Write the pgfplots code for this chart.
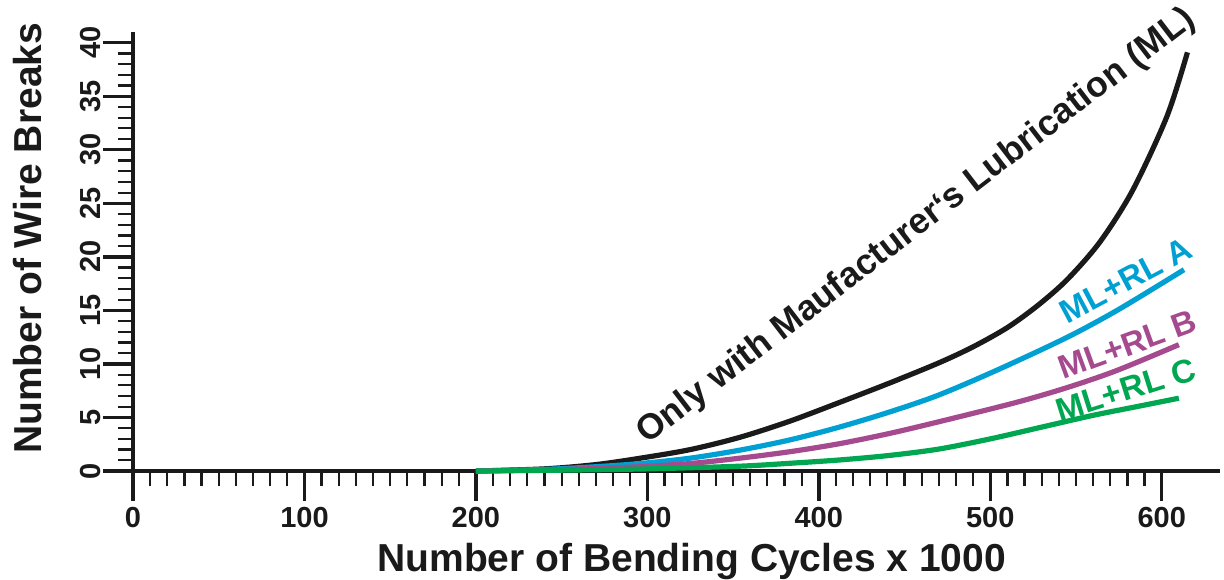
\documentclass[border=0pt]{standalone}
\usepackage{fontspec}
\setmainfont{Liberation Sans}
\usepackage{pgfplots}
\pgfplotsset{compat=1.18}
\definecolor{mlblack}{RGB}{26,26,26}
\definecolor{rla}{RGB}{0,160,210}
\definecolor{rlb}{RGB}{165,74,142}
\definecolor{rlc}{RGB}{0,166,80}
\begin{document}
\begin{tikzpicture}
\begin{axis}[
  at={(0,0)}, anchor=south west,
  scale only axis, width=543.5pt, height=219.5pt,
  xmin=0, xmax=634, ymin=0, ymax=41,
  axis lines=left, axis line style={-, line width=1.8pt, color=mlblack},
  tick align=outside,
  xtick={0,100,...,600}, ytick={0,5,...,40},
  minor x tick num=9, minor y tick num=4,
  major tick length=15pt, minor tick length=7.5pt,
  major tick style={line width=1.7pt, color=mlblack},
  minor tick style={line width=1.1pt, color=mlblack},
  ticklabel style={font=\fontsize{14.5}{15}\selectfont\bfseries, text=mlblack},
  /pgf/number format/assume math mode=true,
  /pgf/number format/1000 sep={},
  yticklabel style={rotate=90, anchor=south, inner sep=1pt},
  xticklabel style={anchor=north, inner sep=1pt, yshift=-2pt},
  xlabel={Number of Bending Cycles x 1000},
  ylabel={Number of Wire Breaks},
  label style={font=\fontsize{19.5}{20}\selectfont\bfseries, text=mlblack},
  xlabel style={at={(rel axis cs:0.514,0)}, anchor=center, yshift=-45pt},
  ylabel style={at={([xshift=-52.5pt]rel axis cs:0,0.53)}, anchor=center},
  clip=false,
  every axis plot/.append style={line width=2.6pt, smooth},
]
% only manufacturer's lubrication
\addplot[mlblack] coordinates {(200,0) (240,0.2) (270,0.6) (296,1.2) (325,2.0)
  (354,3.15) (383,4.65) (412,6.4) (441,8.2) (470,10.1) (490,11.6) (510,13.4)
  (528,15.5) (545,17.9) (564,21.4) (583,26.2) (603,33.1) (615,39.1)};
% ML + RL A
\addplot[rla] coordinates {(200,0) (240,0.15) (270,0.4) (296,0.7) (325,1.2)
  (354,1.95) (383,2.9) (412,4.1) (441,5.5) (470,7.1) (505,9.5) (545,12.5)
  (575,15.1) (613,18.8)};
% ML + RL B
\addplot[rlb] coordinates {(200,0) (240,0.1) (270,0.25) (296,0.4) (325,0.7)
  (354,1.2) (383,1.8) (412,2.55) (441,3.5) (470,4.6) (515,6.4) (545,7.8)
  (574,9.4) (610,11.8)};
% ML + RL C
\addplot[rlc] coordinates {(200,0) (250,0.08) (300,0.2) (354,0.45) (383,0.72)
  (412,1.03) (441,1.45) (470,2.05) (500,3.0) (530,4.1) (560,5.2) (585,6.0)
  (610,6.8)};

\node[rotate=37.5, font=\fontsize{17.8}{18}\selectfont\bfseries, text=mlblack]
  at (axis cs:457,22.8) {Only with Maufacturer‘s Lubrication (ML)};
\node[rotate=28, font=\fontsize{16.5}{17}\selectfont\bfseries, text=rla]
  at (axis cs:579,17.8) {ML+RL A};
\node[rotate=20, font=\fontsize{16.5}{17}\selectfont\bfseries, text=rlb]
  at (axis cs:580,11.8) {ML+RL B};
\node[rotate=17.5, font=\fontsize{16.5}{17}\selectfont\bfseries, text=rlc]
  at (axis cs:579,7.6) {ML+RL C};
\end{axis}
\pgfresetboundingbox
\path (-66.5pt,-54pt) rectangle (545.5pt,235.5pt);
\end{tikzpicture}
\end{document}
